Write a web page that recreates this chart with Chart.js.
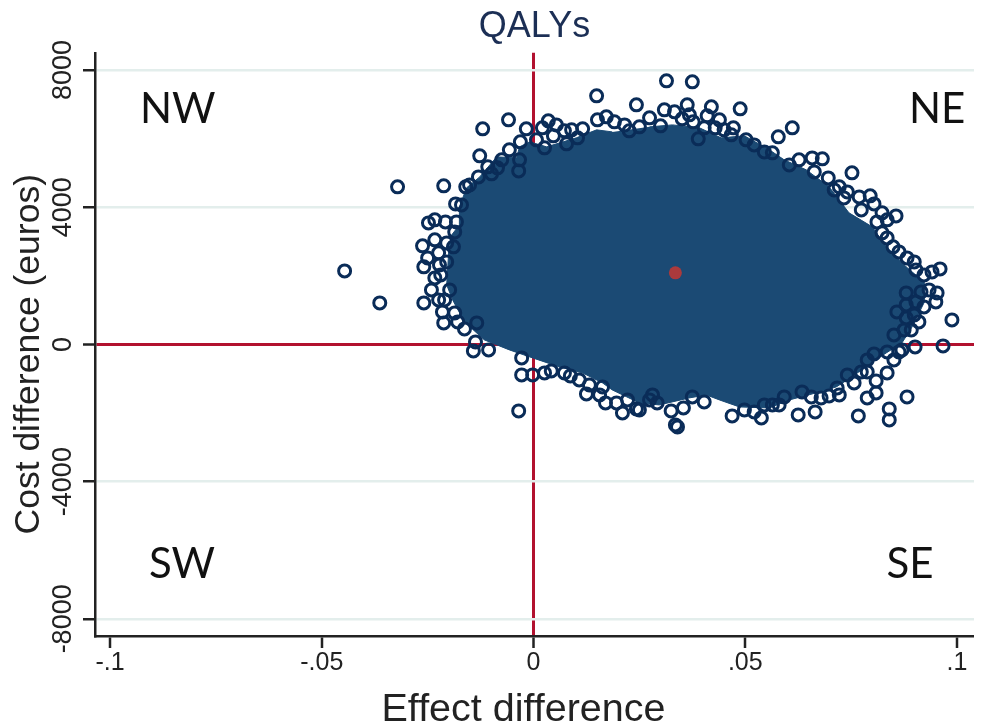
<!DOCTYPE html>
<html>
<head>
<meta charset="utf-8">
<title>QALYs</title>
<script src="https://cdn.jsdelivr.net/npm/chart.js@4/dist/chart.umd.js"></script>
<style>
    html, body { margin: 0; padding: 0; background: #ffffff; }
    canvas { display: block; }
</style>
</head>
<body>
<canvas id="planeChart" width="983" height="727"></canvas>
<script>
// Axis ticks
const effectTicks = [-0.1, -0.05, 0, 0.05, 0.1];
const effectTickLabels = ['-.1', '-.05', '0', '.05', '.1'];
const costTicks = [-8000, -4000, 0, 4000, 8000];

// Quadrant captions
const quadrantNames = ['NW', 'NE', 'SW', 'SE'];
const quadrantEffect = [-0.084, 0.0953, -0.083, 0.0889];
const quadrantCost = [6837, 6837, -6429, -6429];

// Mean of the replicates
const meanEffect = [0.0335];
const meanCost = [2085];

// Outline of the solid part of the cloud, read clockwise from the top
const cloudEffect = [
    0.0274, 0.0328, 0.0392, 0.0443, 0.0498, 0.0557, 0.0592, 0.0644, 0.0698, 0.0745,
    0.08, 0.0833, 0.088, 0.0922, 0.0922, 0.0894, 0.087, 0.0833, 0.08, 0.0752,
    0.0715, 0.0667, 0.0604, 0.0557, 0.0486, 0.0439, 0.0408, 0.0368, 0.0297, 0.025,
    0.0186, 0.0163, 0.0116, 0.0061, -0.0002, -0.0057, -0.0116, -0.0163, -0.0191, -0.0205,
    -0.02, -0.0193, -0.0175, -0.0175, -0.0158, -0.0127, -0.0087, -0.004, -0.0033, -0.0009,
    0.0031, 0.0101, 0.0149, 0.0186
];
const cloudCost = [
    6341, 6399, 6312, 6021, 6079, 5671, 5379, 5088, 4592, 3834,
    3426, 2843, 2260, 1822, 1210, 510, 44, -248, -510, -948,
    -1239, -1414, -1618, -1851, -1822, -1618, -1472, -1560, -1764, -1706,
    -1327, -1122, -831, -656, -394, -160, 131, 656, 1297, 1735,
    2755, 3193, 3484, 4009, 4563, 4883, 5467, 5437, 5758, 5904,
    5758, 6021, 6254, 6195
];

// Single replicates that stand clear of the cloud or sit on its rim
const outlierEffect = [
    0.0149, 0.0243, -0.0059, -0.012, -0.0017, 0.0035, 0.0021, 0.0054, 0.0073, 0.0047,
    0.0116, 0.0104, 0.0151, 0.0172, 0.0191, 0.0226, 0.025, -0.0031, 0.0078, 0.0026,
    -0.0127, -0.0075, -0.0108, -0.0033, -0.0035, -0.0099, -0.013, -0.0321, -0.0212, -0.016,
    -0.0184, -0.0248, -0.0233, -0.0208, -0.0182, -0.0262, -0.0233, -0.0205, -0.0224, -0.0189,
    -0.0259, -0.0446, -0.0233, -0.0241, -0.0363, -0.0259, -0.0224, -0.0215, -0.0212, -0.0186,
    -0.0179, -0.0163, -0.0134, -0.0137, -0.0142, -0.0106, -0.0028, -0.0028, -0.0002, 0.0026,
    0.0042, 0.0087, -0.0035, 0.0125, 0.0132, 0.0163, 0.017, 0.0196, 0.021, 0.0243,
    0.025, 0.0292, 0.0325, 0.0354, 0.0375, 0.0281, 0.0335, 0.034, 0.0469, 0.0538,
    0.0564, 0.0545, 0.0592, 0.0625, 0.0665, 0.0656, 0.0634, 0.0722, 0.0717, 0.0741,
    0.0774, 0.0835, 0.0809, 0.0809, 0.0788, 0.0767, 0.084, 0.084, 0.0882, 0.0835,
    0.0804, 0.0788, 0.087, 0.0901, 0.0967, 0.0988, 0.0892, 0.091, 0.088, 0.0858,
    0.0922, 0.088, 0.095, 0.0953, 0.0915, 0.088, 0.0903, 0.0314, 0.0375, 0.0309,
    0.0333, 0.0363, 0.042, 0.0488, 0.03, 0.0351, 0.0377, 0.041, 0.0403, 0.0429,
    0.0472, 0.0467, 0.0389, 0.0578, 0.0611, 0.0564, 0.0502, 0.0627, 0.0658, 0.0682,
    0.0752, 0.0696, 0.0722, 0.0741, 0.0769, 0.0795, 0.0804, 0.0823, 0.0856, 0.0835,
    0.0823, 0.0849, 0.0882, 0.0903, 0.0941, 0.096,
    -0.0198, -0.0219, -0.0205, -0.0222, -0.025, -0.021, 0.0073, 0.0108, 0.0156, 0.0222,
    0.0274, 0.0403, 0.0498, 0.0521, 0.058, 0.0679, 0.0698, 0.0757, 0.0788, 0.0851,
    0.0863, 0.0851, 0.0875, 0.0899, 0.0934, 0.0922, 0.0899, 0.0863, 0.0835, 0.0811,
    0.0774, 0.0733, 0.071, 0.0663, 0.0604, 0.0545, 0.0521, 0.045, 0.0439, 0.0368,
    0.0274, 0.0215, 0.009, 0.0007, -0.0057, -0.0085, -0.0151, -0.017, -0.0186
];
const outlierCost = [
    7245, 6983, 6545, 6283, 6283, 6516, 6312, 6399, 6225, 6079,
    6283, 6021, 6545, 6633, 6487, 6225, 6341, 5904, 5846, 5729,
    5496, 5379, 5175, 5379, 5058, 4971, 4883, 4592, 4621, 4592,
    4096, 3542, 3630, 3571, 3571, 2872, 3047, 2959, 2668, 2843,
    2260, 2143, 1939, 1589, 1210, 1210, 1297, 948, 627, 918,
    656, 452, 627, 73, -190, -160, -394, -889, -889, -831,
    -773, -918, -1939, -1443, -1181, -1239, -1706, -1706, -1997, -1880,
    -1910, -1706, -1939, -1851, -1531, -1472, -2347, -2405, -2085, -2143,
    -1764, -1764, -1531, -2055, -1968, -1531, -1385, -1472, -1268, -889,
    -802, -831, -1064, -1414, -1560, -2085, -1880, -2201, -1531, -219,
    -277, -452, -160, -73, -44, 714, 423, 656, 773, 948,
    1093, 1152, 1239, 1501, 1531, 1501, 1239, 7682, 7653, 6837,
    6778, 6983, 6924, 6866, 6370, 6574, 6487, 6662, 6312, 6312,
    6312, 6108, 5991, 6050, 6312, 5583, 5962, 5379, 5437, 5408,
    5000, 4854, 4592, 4446, 4300, 4330, 4096, 3834, 3746, 3630,
    3251, 2843, 2522, 2172, 2114, 2201,
    1589, 2026, 2405, 2318, 2522, 1297, -831, -1035, -1472, -1618,
    -1618, -1676, -1910, -1968, -1764, -1560, -1501, -1122, -802, -452,
    -219, 277, 423, 860, 1589, 2026, 2405, 2697, 3105, 3571,
    3921, 4271, 4504, 5029, 5233, 5612, 5816, 6254, 6545, 6691,
    6604, 6399, 6254, 5962, 5671, 5146, 4650, 4067, 3280
];

const toPoints = (xs, ys) => xs.map((x, i) => ({ x: x, y: ys[i] }));

// Quadrant captions sit in data space, so they follow the scales
const quadrantCaptions = {
    id: 'quadrantCaptions',
    afterDatasetsDraw(chart) {
        const { ctx, scales } = chart;
        ctx.save();
        ctx.font = '42px Lato';
        ctx.fillStyle = '#111111';
        ctx.textAlign = 'center';
        ctx.textBaseline = 'middle';
        quadrantNames.forEach((name, i) => {
            ctx.fillText(name, scales.x.getPixelForValue(quadrantEffect[i]), scales.y.getPixelForValue(quadrantCost[i]));
        });
        ctx.restore();
    }
};

new Chart(document.getElementById('planeChart'), {
    type: 'scatter',
    plugins: [quadrantCaptions],
    data: {
        datasets: [
            // First dataset is painted last
            {
                label: 'Mean',
                data: toPoints(meanEffect, meanCost),
                pointRadius: 6.5,
                pointBorderWidth: 0,
                pointBackgroundColor: '#ab3a3c'
            },
            {
                label: 'Replicates',
                data: toPoints(outlierEffect, outlierCost),
                pointRadius: 6,
                pointBorderWidth: 3,
                pointBackgroundColor: 'rgba(0, 0, 0, 0)',
                pointBorderColor: '#0a2c58'
            },
            {
                label: 'Cloud',
                data: toPoints(cloudEffect, cloudCost),
                showLine: true,
                fill: 'shape',
                pointRadius: 0,
                borderWidth: 1,
                borderColor: '#1b4a74',
                backgroundColor: '#1b4a74'
            }
        ]
    },
    options: {
        responsive: false,
        animation: false,
        layout: { padding: { right: 8 } },
        plugins: {
            legend: { display: false },
            tooltip: { enabled: false },
            title: {
                display: true,
                text: 'QALYs',
                fullSize: false,
                color: '#1c2f55',
                font: { family: 'Liberation Sans', size: 36, weight: 'normal' },
                padding: { top: 5, bottom: 4.6 }
            }
        },
        scales: {
            x: {
                type: 'linear',
                min: -0.10354,
                max: 0.10401,
                afterFit(scale) { scale.height = 91; },
                afterBuildTicks(scale) { scale.ticks = effectTicks.map(v => ({ value: v })); },
                border: { color: '#222222', width: 2.5 },
                grid: {
                    color: c => (c.tick.value === 0 ? '#b2112f' : 'rgba(0, 0, 0, 0)'),
                    lineWidth: c => (c.tick.value === 0 ? 3 : 0),
                    tickColor: '#222222',
                    tickWidth: 2.5,
                    tickLength: 12
                },
                ticks: {
                    autoSkip: false,
                    maxRotation: 0,
                    padding: 0,
                    color: '#222222',
                    font: { family: 'Liberation Sans', size: 25 },
                    callback: (value, i) => effectTickLabels[i]
                },
                title: {
                    display: true,
                    // trailing spaces pull the centred title left, as in the original
                    text: 'Effect difference  ',
                    color: '#222222',
                    font: { family: 'Liberation Sans', size: 39.5 },
                    padding: { top: 0, bottom: -7 }
                }
            },
            y: {
                type: 'linear',
                min: -8500,
                max: 8500,
                afterFit(scale) { scale.width = 95; },
                afterBuildTicks(scale) { scale.ticks = costTicks.map(v => ({ value: v })); },
                border: { color: '#222222', width: 2.5 },
                grid: {
                    color: c => (c.tick.value === 0 ? '#b2112f' : '#e3eeec'),
                    lineWidth: c => (c.tick.value === 0 ? 3 : 2.5),
                    tickColor: '#222222',
                    tickWidth: 2.5,
                    tickLength: 12
                },
                ticks: {
                    autoSkip: false,
                    minRotation: 90,
                    maxRotation: 90,
                    crossAlign: 'center',
                    padding: -15,
                    color: '#222222',
                    font: { family: 'Liberation Sans', size: 27 },
                    callback: value => String(value)
                },
                title: {
                    display: true,
                    // trailing spaces pull the centred title down, as in the original
                    text: 'Cost difference (euros)  ',
                    color: '#222222',
                    font: { family: 'Liberation Sans', size: 35.5 },
                    padding: { top: 8, bottom: 0 }
                }
            }
        }
    }
});
</script>
</body>
</html>
